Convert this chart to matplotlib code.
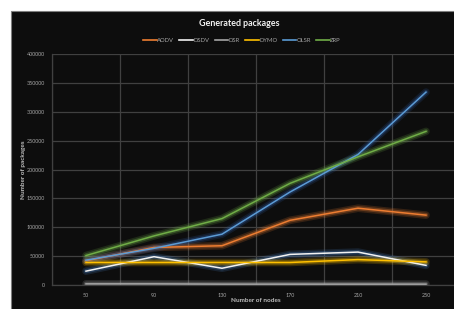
import matplotlib
matplotlib.use("Agg")
import matplotlib.pyplot as plt
from matplotlib.patches import Rectangle
from matplotlib.lines import Line2D

nodes = ["50", "90", "130", "170", "210", "250"]
aodv = [42000, 65000, 68000, 112000, 133000, 121000]
dsdv = [24000, 49000, 29000, 53000, 57000, 34000]
dsr = [2000, 2000, 1500, 1500, 1500, 1500]
dymo = [39000, 39000, 39000, 39000, 44000, 40000]
olsr = [43000, 63500, 88000, 161000, 226000, 334000]
zrp = [51000, 85000, 115000, 176000, 222000, 266000]

series = [
    ("AODV", aodv, "#ED7D31", "#ED7D31"),
    ("DSDV", dsdv, "#F2F2F2", "#4A7FC0"),
    ("DSR", dsr, "#A5A5A5", "#A5A5A5"),
    ("DYMO", dymo, "#FFC000", "#FFC000"),
    ("OLSR", olsr, "#5B9BD5", "#2F5FA8"),
    ("ZRP", zrp, "#70AD47", "#70AD47"),
]

plt.rcParams['font.family'] = ['Lato', 'DejaVu Sans']
W, H = 454, 309
fig = plt.figure(figsize=(W / 100, H / 100), dpi=100, facecolor="white")
bg = "#0D0D0D"
fig.patches.append(Rectangle((11 / W, -0.1), 1.2, (H - 11) / H + 0.1, transform=fig.transFigure,
                             facecolor=bg, edgecolor="#7F7F7F", linewidth=0.8, zorder=-5))

ax = fig.add_axes([52 / W, (H - 285) / H, 408 / W, 231 / H])
ax.set_zorder(2)
ax.set_facecolor(bg)
x = list(range(len(nodes)))
for name, vals, col, glow in series:
    ax.plot(x, vals, color=glow, lw=5.5, alpha=0.18, solid_capstyle="round", zorder=2)
    ax.plot(x, vals, color=glow, lw=3.2, alpha=0.3, solid_capstyle="round", zorder=2)
    ax.plot(x, vals, color=col, lw=1.1, zorder=3, label=name)

ax.set_xlim(-0.5, 5.5)
ax.set_ylim(0, 400000)
ax.set_xticks(x)
ax.set_xticklabels(nodes)
ax.set_xticks([i + 0.5 for i in range(-1, 6)], minor=True)
ax.set_yticks(range(0, 400001, 50000))
ax.grid(True, axis="y", color="#404040", lw=0.9)
ax.grid(True, axis="x", which="minor", color="#404040", lw=0.9)
ax.tick_params(which="both", length=0, colors="#A6A6A6", labelsize=3.9)
ax.tick_params(axis="y", pad=5)
ax.tick_params(axis="x", pad=6)
for s in ["top", "right"]:
    ax.spines[s].set_visible(False)
for s in ["left", "bottom"]:
    ax.spines[s].set_color("#404040")
    ax.spines[s].set_linewidth(0.9)
ax.set_axisbelow(True)

ax.set_xlabel("Number of nodes", color="#BFBFBF", fontsize=4.6, fontweight="bold")
ax.set_ylabel("Number of packages", color="#BFBFBF", fontsize=4.6, fontweight="bold")
ax.xaxis.set_label_coords(0.5, (285 - 301) / 231)
ax.yaxis.set_label_coords((23 - 52) / 408, 0.5)
ax.xaxis.label.set_va("center")
ax.yaxis.label.set_va("center")

fig.text(239 / W, 1 - 23 / H, "Generated packages", ha="center", va="center",
         color="#F2F2F2", fontsize=6.4, fontweight="bold")

handles = [Line2D([0], [0], color=c, lw=1.2) for _, _, c, _ in series]
labels = [n for n, _, _, _ in series]
leg = fig.legend(handles, labels, loc="center", bbox_to_anchor=(242 / W, 1 - 40 / H), ncol=6,
                 frameon=False, fontsize=4.2, labelcolor="#A6A6A6", handlelength=2.3,
                 handletextpad=0.1, columnspacing=0.9)

fig.savefig("out.png", dpi=100, facecolor="white")
